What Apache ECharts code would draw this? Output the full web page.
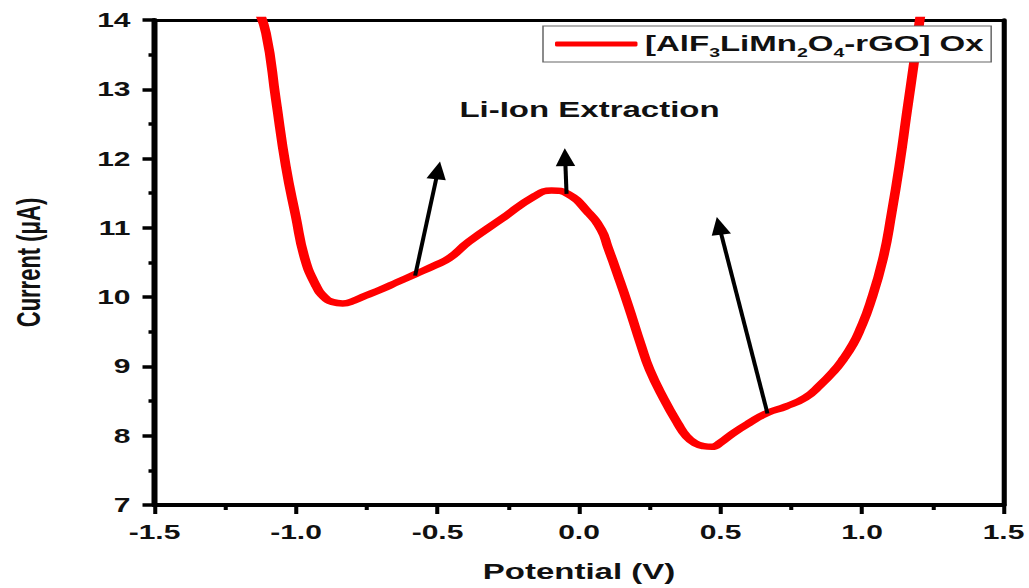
<!DOCTYPE html>
<html>
<head>
<meta charset="utf-8">
<script src="https://cdn.jsdelivr.net/npm/echarts@6/dist/echarts.min.js"></script>
<style>
  html, body { margin: 0; padding: 0; background: #ffffff; overflow: hidden; }
  /* the figure is laid out narrow and stretched horizontally */
  #chart { width: 686px; height: 588px; transform: scaleX(1.5); transform-origin: 0 0; }
</style>
</head>
<body>
<div id="chart"></div>
<script>
// Oxidation sweep: potential (V) vs current (µA)
const potential = [
  -1.140, -1.106, -1.071, -1.036, -1.001, -0.969, -0.930, -0.900, -0.871, -0.835,
  -0.795, -0.755, -0.700, -0.640, -0.579, -0.508, -0.459, -0.389, -0.273, -0.156,
  -0.097, -0.039, 0.031, 0.079, 0.102, 0.137, 0.174, 0.219, 0.250, 0.300,
  0.350, 0.380, 0.410, 0.440, 0.470, 0.500, 0.546, 0.600, 0.666, 0.730,
  0.800, 0.852, 0.900, 0.933, 0.968, 0.993, 1.028, 1.074, 1.105, 1.134,
  1.158, 1.186, 1.204, 1.214
];
const current = [
  14.20, 13.81, 12.85, 11.89, 11.17, 10.56, 10.17, 10.00, 9.93, 9.91,
  9.95, 10.02, 10.11, 10.22, 10.33, 10.46, 10.56, 10.80, 11.13, 11.46,
  11.54, 11.49, 11.23, 10.97, 10.72, 10.32, 9.88, 9.31, 8.95, 8.53,
  8.17, 7.99, 7.89, 7.85, 7.84, 7.90, 8.04, 8.18, 8.33, 8.42,
  8.55, 8.73, 8.93, 9.10, 9.32, 9.53, 9.90, 10.55, 11.22, 11.95,
  12.65, 13.45, 14.00, 14.20
];

// Arrow annotations: tail and head positions in (potential, current)
const arrowTails = [[-0.579, 10.31], [-0.044, 11.49], [0.666, 8.32]];
const arrowHeads = [[-0.498, 11.83], [-0.049, 12.02], [0.495, 11.03]];

const seriesName = '[AlF3LiMn2O4-rGO] Ox';
const annotationText = 'Li-Ion Extraction';
const xAxisTitle = 'Potential (V)';
const yAxisTitle = 'Current (\u03bcA)';

const FONT = '"Liberation Sans", Arial, sans-serif';
const points = potential.map((p, i) => [p, current[i]]);

const chart = echarts.init(document.getElementById('chart'), null, { renderer: 'svg' });

chart.setOption({
  backgroundColor: '#ffffff',
  animation: false,
  grid: { left: 100.7, right: 17, top: 20, bottom: 80, show: false },
  legend: {
    show: true,
    left: 362,
    top: 26,
    orient: 'horizontal',
    padding: [3, 5, 3, 8],
    backgroundColor: '#ffffff',
    borderColor: '#666666',
    borderWidth: 1,
    icon: 'roundRect',
    itemWidth: 55,
    itemHeight: 5,
    itemGap: 5,
    itemStyle: { color: '#ff0000' },
    data: [{ name: seriesName }],
    formatter: () => '[AlF{s|3}LiMn{s|2}O{s|4}-rGO] Ox',
    textStyle: {
      color: '#111111',
      fontFamily: FONT,
      fontWeight: 'bold',
      fontSize: 22,
      lineHeight: 30,
      rich: {
        s: { fontFamily: FONT, fontWeight: 'bold', fontSize: 13, lineHeight: 13, verticalAlign: 'bottom', color: '#111111' }
      }
    }
  },
  xAxis: [{
    type: 'value',
    min: -1.5, max: 1.5, interval: 0.5,
    position: 'bottom',
    name: xAxisTitle,
    nameLocation: 'middle',
    nameGap: 56,
    nameTextStyle: { fontFamily: FONT, fontWeight: 'bold', fontSize: 22, color: '#111111' },
    axisLine: { show: true, onZero: false, lineStyle: { color: '#000000', width: 4 } },
    axisTick: { show: true, inside: false, length: 9, lineStyle: { color: '#000000', width: 2.7 } },
    minorTick: { show: true, splitNumber: 2, length: 5, lineStyle: { color: '#000000', width: 2.7 } },
    splitLine: { show: false },
    axisLabel: {
      show: true, margin: 17, showMinLabel: true, showMaxLabel: true,
      fontFamily: FONT, fontWeight: 'bold', fontSize: 20, color: '#111111',
      formatter: v => v.toFixed(1)
    }
  }, {
    type: 'value',
    min: -1.5, max: 1.5, interval: 0.5,
    position: 'top',
    axisLine: { show: true, onZero: false, lineStyle: { color: '#000000', width: 3 } },
    axisTick: { show: false },
    axisLabel: { show: false },
    splitLine: { show: false }
  }],
  yAxis: [{
    type: 'value',
    min: 7, max: 14, interval: 1,
    position: 'left',
    name: yAxisTitle,
    nameLocation: 'middle',
    nameGap: 73,
    nameRotate: 90,
    nameTextStyle: { fontFamily: FONT, fontWeight: 'bold', fontSize: 22, color: '#111111' },
    axisLine: { show: true, onZero: false, lineStyle: { color: '#000000', width: 4 } },
    axisTick: { show: true, inside: false, length: 8, lineStyle: { color: '#000000', width: 3.5 } },
    minorTick: { show: true, splitNumber: 2, length: 4, lineStyle: { color: '#000000', width: 3.5 } },
    splitLine: { show: false },
    axisLabel: {
      show: true, margin: 16, showMinLabel: true, showMaxLabel: true,
      fontFamily: FONT, fontWeight: 'bold', fontSize: 20, color: '#111111'
    }
  }, {
    type: 'value',
    min: 7, max: 14, interval: 1,
    position: 'right',
    axisLine: { show: true, onZero: false, lineStyle: { color: '#000000', width: 3.4 } },
    axisTick: { show: false },
    axisLabel: { show: false },
    splitLine: { show: false }
  }],
  graphic: [{
    type: 'text',
    x: 393,
    y: 110,
    silent: true,
    style: {
      text: annotationText,
      textAlign: 'center',
      textVerticalAlign: 'middle',
      fontFamily: FONT,
      fontWeight: 'bold',
      fontSize: 22,
      fill: '#111111'
    }
  }],
  series: [{
    name: seriesName,
    type: 'line',
    data: points,
    xAxisIndex: 0,
    yAxisIndex: 0,
    smooth: 0.5,
    showSymbol: false,
    symbol: 'none',
    clip: true,
    lineStyle: { color: '#ff0000', width: 6.5, cap: 'round', join: 'round' },
    itemStyle: { color: '#ff0000' },
    markLine: {
      silent: true,
      animation: false,
      symbol: ['none', 'triangle'],
      symbolSize: [13, 18],
      label: { show: false },
      lineStyle: { color: '#000000', width: 2.7, type: 'solid' },
      itemStyle: { color: '#000000' },
      data: arrowTails.map((t, i) => [
        { coord: t },
        { coord: arrowHeads[i] }
      ])
    }
  }]
});
</script>
</body>
</html>
